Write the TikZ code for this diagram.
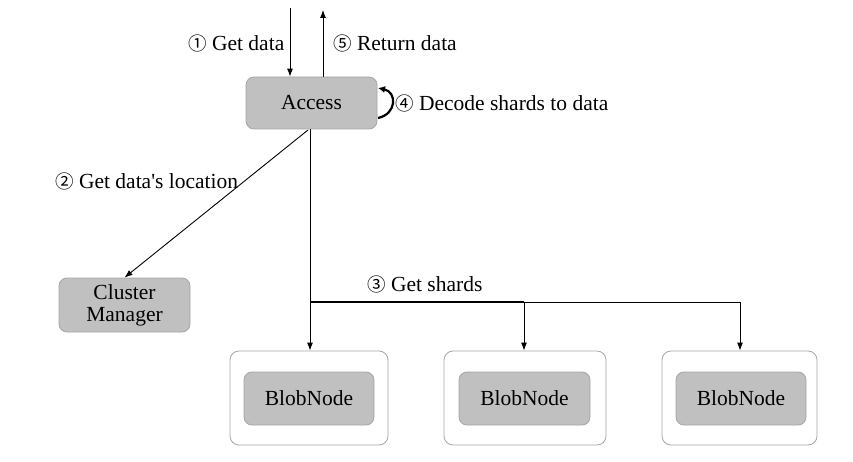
\documentclass[tikz,border=0pt]{standalone}
\usepackage{fontspec}
\setmainfont{Liberation Serif}
\newfontfamily\circfont{Noto Sans CJK SC}
\usetikzlibrary{arrows.meta}
\definecolor{boxfill}{HTML}{C0C0C0}
\definecolor{boxline}{HTML}{A6A6A6}
\newcommand{\cnum}[1]{{\circfont\fontsize{18.5}{20}\selectfont #1}}
\begin{document}
\begin{tikzpicture}[x=1pt,y=-1pt,
  every node/.style={font=\fontsize{21.5}{25}\selectfont},
  graybox/.style={draw=boxline,fill=boxfill,rounded corners=8pt,line width=0.8pt,align=center},
  outerbox/.style={draw=boxline,fill=white,rounded corners=9pt,line width=0.8pt},
  conn/.style={line width=0.9pt,-{Latex[length=8pt,width=6pt]}},
  lbl/.style={inner sep=0pt,anchor=west}]
\useasboundingbox (0,0) rectangle (853,462);
% Access
\node[graybox,minimum width=131pt,minimum height=52pt] (acc) at (311.5,103) {Access};
% Cluster manager
\node[graybox,minimum width=131pt,minimum height=54pt,inner sep=0pt] (cm) at (124.5,305) {Cluster\\[-3pt]Manager};
% Blob nodes
\node[outerbox,minimum width=158pt,minimum height=94pt] (o1) at (309,398) {};
\node[outerbox,minimum width=162pt,minimum height=94pt] (o2) at (525,398) {};
\node[outerbox,minimum width=155pt,minimum height=94pt] (o3) at (739.5,398) {};
\node[graybox,minimum width=130pt,minimum height=53pt] (b1) at (309,398.5) {BlobNode};
\node[graybox,minimum width=131pt,minimum height=53pt] (b2) at (524.5,398.5) {BlobNode};
\node[graybox,minimum width=130pt,minimum height=53pt] (b3) at (741,398.5) {BlobNode};
% in/out coordinates
\coordinate (inS) at (290,8);
\coordinate (outE) at (323,10);
\draw[conn] (inS) -- (inS |- acc.north);
\draw[conn] (outE |- acc.north) -- (outE);
\node[lbl] (l1) at (188,43) {\cnum{①} Get data};
\node[lbl] (l5) at (333,43) {\cnum{⑤} Return data};
% self loop
\coordinate (lb) at (378,118);
\coordinate (lt) at (378,88);
\draw[line width=2.2pt,-{Latex[length=7pt,width=7pt]}] (lb) .. controls (397,114) and (397,92) .. (lt);
\node[lbl] (l4) at (395,103) {\cnum{④} Decode shards to data};
% to cluster manager
\coordinate (accb) at (308,130);
\draw[conn] (accb) -- (cm.north);
\node[lbl] (l2) at (55,181) {\cnum{②} Get data\textquotesingle s location};
% shards
\coordinate (accc) at (310,129);
\coordinate (j) at (310,302);
\draw[conn] (accc) -- (o1.north -| accc);
\draw[line width=1.2pt] (j) -- (524,302);
\draw[line width=0.9pt] (524,302) -- (740,302);
\coordinate (j2) at (524,302);
\coordinate (j3) at (740,302);
\draw[conn] (j2) -- (j2 |- o2.north);
\draw[conn] (j3) -- (j3 |- o3.north);
\node[lbl] (l3) at (367,284) {\cnum{③} Get shards};
\end{tikzpicture}
\end{document}
